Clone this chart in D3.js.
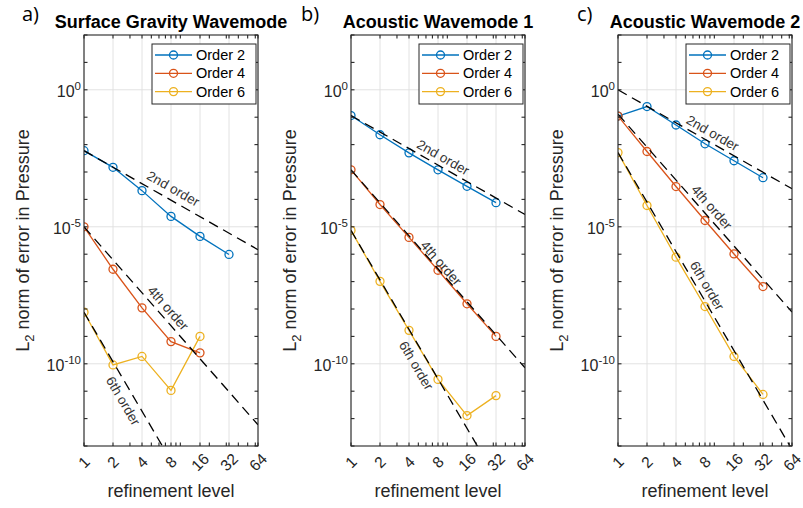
<!DOCTYPE html>
<html>
<head>
<meta charset="utf-8">
<script src="https://cdn.jsdelivr.net/npm/d3@7"></script>
<style>
  html, body { margin: 0; padding: 0; background: #fff; }
  svg { display: block; font-family: "Liberation Sans", Arial, Helvetica, sans-serif; }
</style>
</head>
<body>
<svg id="chart" width="803" height="508"></svg>
<script>
// ---- data ---------------------------------------------------------------
const levels = [1, 2, 4, 8, 16, 32];
const seriesNames = ["Order 2", "Order 4", "Order 6"];
const panelTitles = ["Surface Gravity Wavemode", "Acoustic Wavemode 1", "Acoustic Wavemode 2"];
const panelTags = ["a)", "b)", "c)"];

// L2 error in pressure per refinement level
const surfaceOrder2 = [6.0e-3, 1.48e-3, 2.09e-4, 2.4e-5, 4.47e-6, 9.8e-7];
const surfaceOrder4 = [1.0e-5, 2.82e-7, 1.1e-8, 6.46e-10, 2.51e-10];
const surfaceOrder6 = [7.6e-9, 9.1e-11, 1.86e-10, 1.07e-11, 1.0e-9];

const acoustic1Order2 = [1.15e-1, 2.29e-2, 5.0e-3, 1.2e-3, 3.0e-4, 7.6e-5];
const acoustic1Order4 = [1.2e-3, 6.5e-5, 4.1e-6, 2.6e-7, 1.55e-8, 1.0e-9];
const acoustic1Order6 = [7.4e-6, 1.02e-7, 1.66e-9, 2.7e-11, 1.29e-12, 6.9e-12];

const acoustic2Order2 = [1.1e-1, 2.45e-1, 5.2e-2, 1.07e-2, 2.57e-3, 6.2e-4];
const acoustic2Order4 = [1.1e-1, 5.6e-3, 2.95e-4, 1.7e-5, 1.02e-6, 6.6e-8];
const acoustic2Order6 = [5.1e-3, 6.0e-5, 7.8e-7, 1.23e-8, 1.86e-10, 7.6e-12];

// reference slopes: error = start * level^(-order)
const refOrders = [2, 4, 6];
const refLabels = ["2nd order", "4th order", "6th order"];
const surfaceRefStart = [6.0e-3, 1.0e-5, 7.6e-9];
const acoustic1RefStart = [1.15e-1, 1.2e-3, 7.4e-6];
const acoustic2RefStart = [1.0, 1.3e-1, 5.1e-3];

const xTicks = [1, 2, 4, 8, 16, 32, 64];
const xMinorTicks = [3, 5, 6, 7, 9, 10, 20, 30, 40, 50, 60];
const yLabelExps = [0, -5, -10];
const yDomain = [1e-13, 1e2];
const xDomain = [1, 64];

// ---- layout -------------------------------------------------------------
const colors = ["#0072BD", "#D95319", "#EDB120"];
const axisColor = "#262626";
const gridColor = "#dfdfdf";
const plotTop = 35, plotBottom = 446, plotW = 174;
const panelLeft = [84, 351, 618];
const tagX = [22, 301, 577];
// where each slope annotation sits: level along the line and offset (px) off the line
const refLabelPlacement = [
  [{ at: 7.4, d: 11 }, { at: 6.3, d: 9.4 }, { at: 3.2, d: -11.2 }],
  [{ at: 8.1, d: 9 }, { at: 7.7, d: 6 }, { at: 6.1, d: -12.2 }],
  [{ at: 8.6, d: 9 }, { at: 8.0, d: 8.8 }, { at: 6.9, d: 9.5 }]
];

const panels = [
  { series: [surfaceOrder2, surfaceOrder4, surfaceOrder6], ref: surfaceRefStart },
  { series: [acoustic1Order2, acoustic1Order4, acoustic1Order6], ref: acoustic1RefStart },
  { series: [acoustic2Order2, acoustic2Order4, acoustic2Order6], ref: acoustic2RefStart }
];

const svg = d3.select("#chart");
svg.append("rect").attr("width", 803).attr("height", 508).attr("fill", "#fff");
const fontSans = '"Liberation Sans", Arial, Helvetica, sans-serif';

panels.forEach((panel, pi) => {
  const L = panelLeft[pi];
  const x = d3.scaleLog().base(2).domain(xDomain).range([L, L + plotW]);
  const y = d3.scaleLog().domain(yDomain).range([plotBottom, plotTop]);
  const g = svg.append("g");

  const clipId = "clip" + pi;
  svg.append("clipPath").attr("id", clipId)
    .append("rect").attr("x", L).attr("y", plotTop).attr("width", plotW).attr("height", plotBottom - plotTop);

  // grid
  g.append("g").selectAll("line").data(xTicks).join("line")
    .attr("x1", d => x(d)).attr("x2", d => x(d))
    .attr("y1", plotTop).attr("y2", plotBottom)
    .attr("stroke", gridColor).attr("stroke-width", 0.9);
  g.append("g").selectAll("line").data(yLabelExps).join("line")
    .attr("x1", L).attr("x2", L + plotW)
    .attr("y1", d => y(Math.pow(10, d))).attr("y2", d => y(Math.pow(10, d)))
    .attr("stroke", gridColor).attr("stroke-width", 0.9);

  // data series
  const line = d3.line().x((d, i) => x(levels[i])).y(d => y(d));
  const dataG = g.append("g").attr("clip-path", `url(#${clipId})`);
  panel.series.forEach((vals, si) => {
    dataG.append("path").datum(vals)
      .attr("d", line).attr("fill", "none")
      .attr("stroke", colors[si]).attr("stroke-width", 1.3);
    dataG.append("g").selectAll("circle").data(vals).join("circle")
      .attr("cx", (d, i) => x(levels[i])).attr("cy", d => y(d)).attr("r", 4)
      .attr("fill", "none").attr("stroke", colors[si]).attr("stroke-width", 1.3);
  });

  // reference slopes
  const refG = g.append("g").attr("clip-path", `url(#${clipId})`);
  refOrders.forEach((p, ri) => {
    const start = panel.ref[ri];
    const f = lv => start * Math.pow(lv, -p);
    refG.append("path").datum(xDomain)
      .attr("d", d3.line().x(d => x(d)).y(d => y(f(d))))
      .attr("fill", "none").attr("stroke", "#000").attr("stroke-width", 1.3)
      .attr("stroke-dasharray", "10,6");
  });
  refOrders.forEach((p, ri) => {
    const start = panel.ref[ri];
    const f = lv => start * Math.pow(lv, -p);
    const ang = Math.atan2(y(f(64)) - y(f(1)), x(64) - x(1));
    const pl = refLabelPlacement[pi][ri];
    const px = x(pl.at) + pl.d * Math.sin(ang);
    const py = y(f(pl.at)) - pl.d * Math.cos(ang);
    g.append("text")
      .attr("transform", `translate(${px},${py}) rotate(${ang * 180 / Math.PI})`)
      .attr("text-anchor", "middle").attr("dominant-baseline", "central")
      .attr("font-size", 13.5).attr("fill", "#333")
      .text(refLabels[ri]);
  });

  // axes box and ticks
  const axG = g.append("g").attr("stroke", axisColor).attr("stroke-width", 1.1);
  axG.append("rect").attr("x", L).attr("y", plotTop).attr("width", plotW)
    .attr("height", plotBottom - plotTop).attr("fill", "none");
  const tl = 3.5;
  const allX = xTicks.concat(xMinorTicks);
  allX.forEach(t => {
    axG.append("line").attr("x1", x(t)).attr("x2", x(t)).attr("y1", plotBottom).attr("y2", plotBottom - tl);
    axG.append("line").attr("x1", x(t)).attr("x2", x(t)).attr("y1", plotTop).attr("y2", plotTop + tl);
  });
  d3.range(-13, 3).forEach(e => {
    const yy = y(Math.pow(10, e));
    axG.append("line").attr("x1", L).attr("x2", L + tl).attr("y1", yy).attr("y2", yy);
    axG.append("line").attr("x1", L + plotW).attr("x2", L + plotW - tl).attr("y1", yy).attr("y2", yy);
  });

  // x tick labels (rotated)
  g.append("g").selectAll("text").data(xTicks).join("text")
    .attr("transform", d => `translate(${x(d)},${462}) rotate(-45)`)
    .attr("text-anchor", "middle").attr("dominant-baseline", "central")
    .attr("font-size", 15.5).attr("fill", axisColor)
    .text(d => d);

  // y tick labels 10^k
  yLabelExps.forEach(e => {
    const t = g.append("text")
      .attr("x", L - 3).attr("y", y(Math.pow(10, e)) + 7)
      .attr("text-anchor", "end").attr("font-size", 16).attr("fill", axisColor);
    t.append("tspan").text("10");
    t.append("tspan").attr("dy", -7).attr("font-size", 11.5).text(String(e));
  });

  // axis labels
  g.append("text")
    .attr("x", L + plotW / 2).attr("y", 497)
    .attr("text-anchor", "middle").attr("font-size", 18).attr("fill", axisColor)
    .text("refinement level");
  const yl = g.append("text")
    .attr("transform", `translate(${L - 55},${(plotTop + plotBottom) / 2}) rotate(-90)`)
    .attr("text-anchor", "middle").attr("font-size", 18).attr("fill", axisColor);
  yl.append("tspan").text("L");
  yl.append("tspan").attr("dy", 5).attr("font-size", 13).text("2");
  yl.append("tspan").attr("dy", -5).text(" norm of error in Pressure");

  // title and panel tag
  g.append("text")
    .attr("x", L + plotW / 2).attr("y", 28)
    .attr("text-anchor", "middle").attr("font-size", 18).attr("font-weight", "bold")
    .attr("fill", "#000").text(panelTitles[pi]);
  g.append("text")
    .attr("x", tagX[pi]).attr("y", 21)
    .attr("font-family", '"Open Sans", ' + fontSans)
    .attr("font-size", 20).attr("fill", "#000").text(panelTags[pi]);

  // legend
  const lgX = L + plotW - 106, lgY = 44;
  const lg = g.append("g");
  lg.append("rect").attr("x", lgX).attr("y", lgY).attr("width", 104).attr("height", 60)
    .attr("fill", "#fff").attr("stroke", axisColor).attr("stroke-width", 1);
  seriesNames.forEach((name, si) => {
    const ry = lgY + 11 + si * 18.3;
    lg.append("line").attr("x1", lgX + 3).attr("x2", lgX + 40).attr("y1", ry).attr("y2", ry)
      .attr("stroke", colors[si]).attr("stroke-width", 1.3);
    lg.append("circle").attr("cx", lgX + 21.5).attr("cy", ry).attr("r", 4)
      .attr("fill", "none").attr("stroke", colors[si]).attr("stroke-width", 1.3);
    lg.append("text").attr("x", lgX + 44).attr("y", ry).attr("dominant-baseline", "central")
      .attr("font-size", 14.5).attr("fill", "#000").text(name);
  });
});
</script>
</body>
</html>
